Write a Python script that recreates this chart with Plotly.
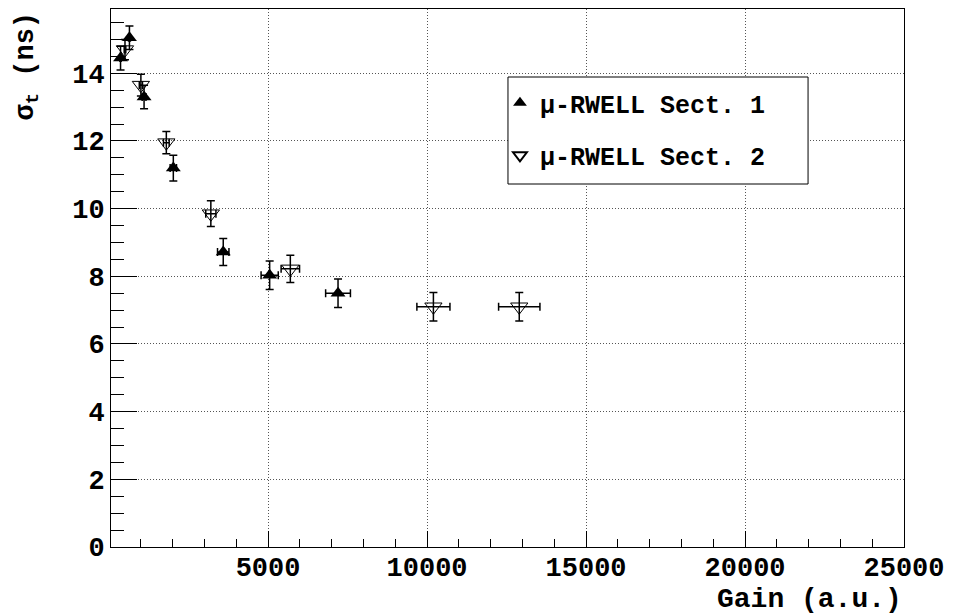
import plotly.graph_objects as go

# ---- data ----
s1_name = "μ-RWELL Sect. 1"
s1_x = [360, 640, 1100, 2020, 3590, 5050, 7200]
s1_y = [14.45, 15.05, 13.3, 11.2, 8.72, 8.03, 7.5]
s1_yerr = [0.35, 0.35, 0.35, 0.38, 0.4, 0.42, 0.42]
s1_xerr = [20, 30, 60, 100, 180, 270, 390]

s2_name = "μ-RWELL Sect. 2"
s2_x = [500, 1000, 1800, 3200, 5700, 10200, 12900]
s2_y = [14.7, 13.65, 11.95, 9.85, 8.22, 7.1, 7.1]
s2_yerr = [0.3, 0.32, 0.33, 0.38, 0.4, 0.42, 0.42]
s2_xerr = [25, 50, 90, 160, 290, 520, 650]

x_ticks = [5000, 10000, 15000, 20000, 25000]
x_ticktext = ["5000", "10000", "15000", "20000", "25000"]

x_title = "Gain (a.u.)"
y_title = "σ<sub>t</sub> (ns)"

FONT = "Liberation Mono"
err_style = dict(type="data", color="black", thickness=1.5, width=4, visible=True)

fig = go.Figure()
fig.add_trace(go.Scatter(
    x=s1_x, y=s1_y, mode="markers", name=s1_name, legendgroup="a",
    marker=dict(symbol="triangle-up", size=13, color="black"),
    error_y=dict(array=s1_yerr, **err_style),
    error_x=dict(array=s1_xerr, **err_style),
))
fig.add_trace(go.Scatter(
    x=s2_x, y=s2_y, mode="markers", name=s2_name, legendgroup="b",
    marker=dict(symbol="triangle-down-open", size=15, color="black",
                line=dict(color="black", width=1)),
    error_y=dict(array=s2_yerr, **err_style),
    error_x=dict(array=s2_xerr, **err_style),
))

axis_common = dict(
    showline=True, linecolor="black", linewidth=1, mirror=True,
    showgrid=True, gridcolor="#555555", griddash="1px,2px", gridwidth=1,
    zeroline=False, ticks="inside", tickcolor="black", tickwidth=1,
    tickfont=dict(family=FONT, size=27, color="black", weight="bold"),
)

fig.update_xaxes(range=[60, 25000], tickvals=x_ticks, ticktext=x_ticktext,
                 ticklen=16, ticklabelstandoff=-4,
                 minor=dict(ticks="inside", ticklen=8, dtick=1000, tick0=0,
                            tickcolor="black", showgrid=False),
                 **axis_common)
fig.update_yaxes(range=[0, 15.9], dtick=2, tick0=0, ticklen=26,
                 minor=dict(ticks="inside", ticklen=13, dtick=0.5, tick0=0,
                            tickcolor="black", showgrid=False),
                 **axis_common)

fig.update_layout(
    width=955, height=615,
    margin=dict(l=111, r=51, t=9, b=68),
    plot_bgcolor="white", paper_bgcolor="white",
    showlegend=True,
    legend=dict(x=0.4905, y=0.868, xanchor="left", yanchor="top",
                borderwidth=0, bgcolor="rgba(0,0,0,0)",
                font=dict(family=FONT, size=25, color="black", weight="bold"),
                tracegroupgap=17, itemsizing="constant"),
    shapes=[
        dict(type="rect", xref="paper", yref="paper",
             x0=0.5006, x1=0.879, y0=0.6747, y1=0.8736,
             line=dict(color="black", width=1), fillcolor="white", layer="above"),
    ],
    annotations=[
        dict(text=x_title, xref="paper", yref="paper", x=1, y=0,
             xanchor="right", yanchor="top", yshift=-35, showarrow=False,
             font=dict(family=FONT, size=28, color="black", weight="bold")),
        dict(text=y_title, xref="paper", yref="paper", x=0, y=1,
             xanchor="center", yanchor="top", xshift=-84, yshift=-1,
             textangle=-90, showarrow=False,
             font=dict(family=FONT, size=27, color="black", weight="bold")),
    ],
)

fig.write_html("out.html")
